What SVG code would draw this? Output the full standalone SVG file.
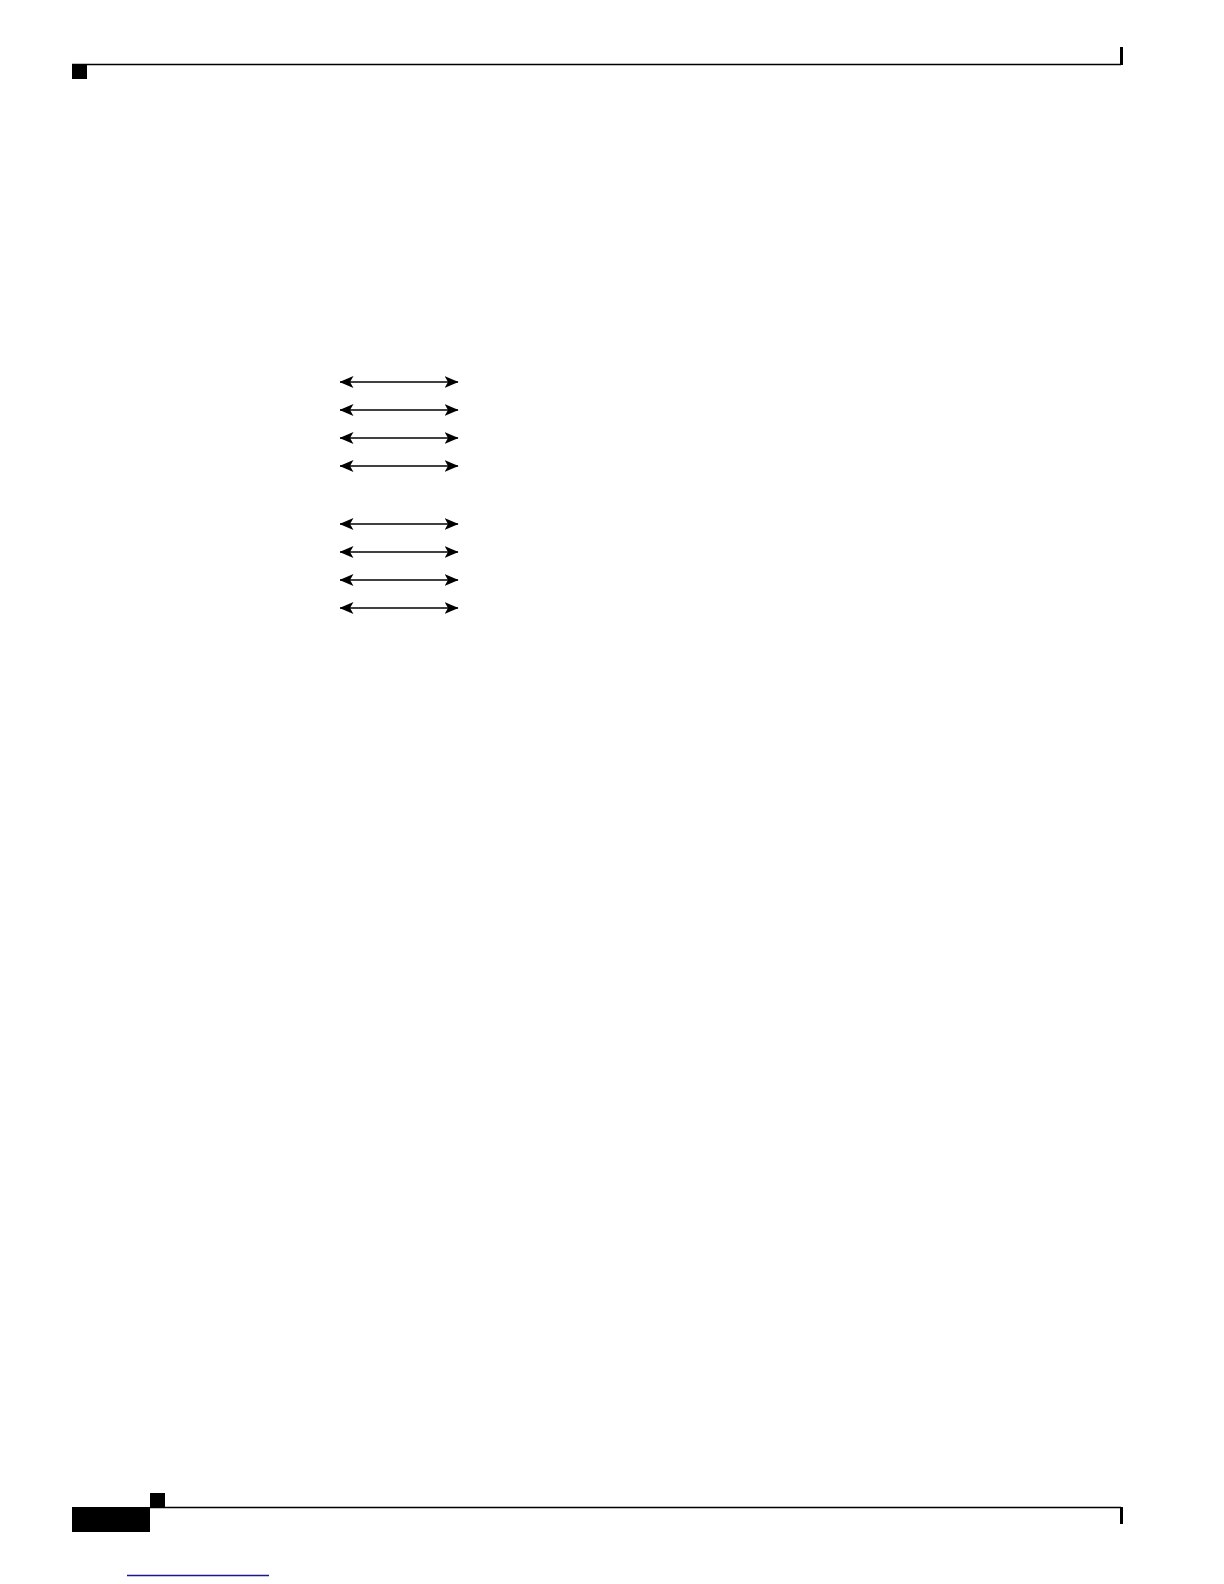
<svg xmlns="http://www.w3.org/2000/svg" width="1224" height="1584" viewBox="0 0 1224 1584">
<style>
.rule{stroke:#000;stroke-width:1.3;fill:none}
.blk{fill:#000}
.arr{stroke:#000;stroke-width:1.5;fill:none;marker-start:url(#ah);marker-end:url(#ah)}
</style>
<defs>
<marker id="ah" viewBox="0 0 14 12" refX="13.5" refY="6" markerWidth="14" markerHeight="12" markerUnits="userSpaceOnUse" orient="auto-start-reverse">
<path d="M0,0 L14,6 L0,12 L3.5,6 Z" fill="#000"/>
</marker>
</defs>
<rect width="1224" height="1584" fill="#fff"/>
<g id="header">
<line class="rule" x1="72" y1="64.5" x2="1121" y2="64.5"/>
<rect class="blk" x="72" y="64" width="15" height="15"/>
<rect class="blk" x="1120" y="47" width="3" height="18"/>
</g>
<g id="connectors">
<line class="arr" x1="340" y1="382" x2="458" y2="382"/>
<line class="arr" x1="340" y1="410" x2="458" y2="410"/>
<line class="arr" x1="340" y1="438" x2="458" y2="438"/>
<line class="arr" x1="340" y1="466" x2="458" y2="466"/>
<line class="arr" x1="340" y1="524" x2="458" y2="524"/>
<line class="arr" x1="340" y1="552" x2="458" y2="552"/>
<line class="arr" x1="340" y1="580" x2="458" y2="580"/>
<line class="arr" x1="340" y1="608" x2="458" y2="608"/>
</g>
<g id="footer">
<rect class="blk" x="150" y="1493" width="15" height="14.5"/>
<rect class="blk" x="72" y="1507" width="78" height="25"/>
<line class="rule" x1="150" y1="1507.5" x2="1121" y2="1507.5"/>
<rect class="blk" x="1120" y="1507" width="3" height="17"/>
<line x1="127" y1="1575.5" x2="269" y2="1575.5" stroke="#1a1a8c" stroke-width="1.3"/>
</g>
</svg>
